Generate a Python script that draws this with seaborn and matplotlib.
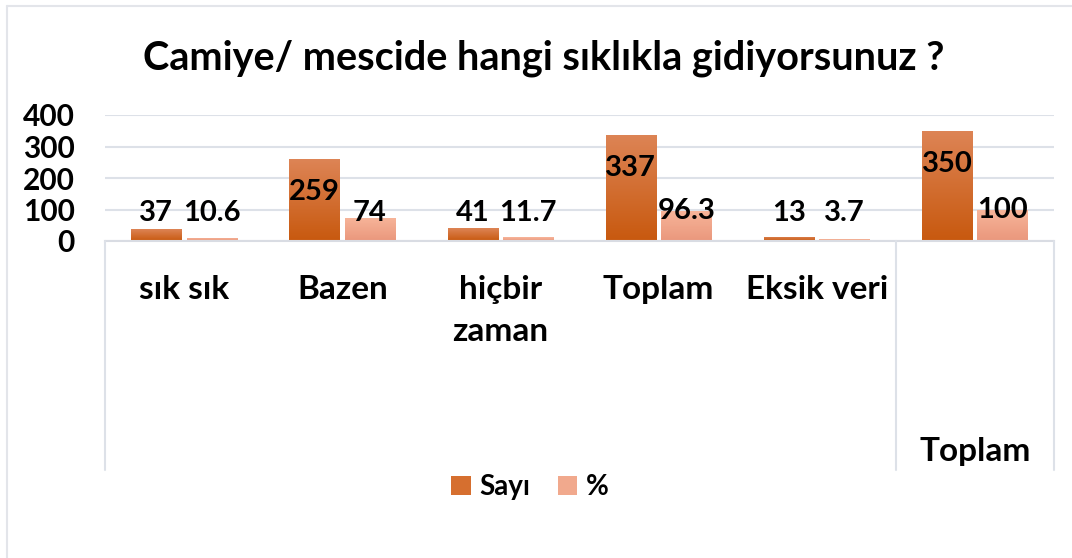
import numpy as np
import pandas as pd
import matplotlib
matplotlib.use("Agg")
import matplotlib.pyplot as plt
import seaborn as sns
from matplotlib.patches import Patch, Rectangle
from matplotlib.lines import Line2D
from matplotlib.colors import LinearSegmentedColormap

# veri
categories = ["sık sık", "Bazen", "hiçbir\nzaman", "Toplam", "Eksik veri", ""]
group_label = "Toplam"
sayi = [37, 259, 41, 337, 13, 350]
yuzde = [10.6, 74, 11.7, 96.3, 3.7, 100]
series = ["Sayı", "%"]
yticks = [0, 100, 200, 300, 400]

sns.set_theme(style="white")
plt.rcParams["font.family"] = ["Lato", "DejaVu Sans"]
plt.rcParams["font.weight"] = "bold"
plt.rcParams["text.color"] = "black"
plt.rcParams["ytick.color"] = "black"

df = pd.DataFrame({
    "pos": list(range(len(categories))) * 2,
    "deger": sayi + yuzde,
    "seri": [series[0]] * len(sayi) + [series[1]] * len(yuzde),
})

dark = "#D2691E"
light = "#F2A98A"
grad = {
    "Sayı": ("#DD8455", "#C8590F"),
    "%": ("#F7B59A", "#EA977C"),
}

fig = plt.figure(figsize=(10.72, 5.58), dpi=100)
W, H = 1072, 558
ax = fig.add_axes([105 / W, 1 - 241 / H, (1054 - 105) / W, (241 - 115) / H])

sns.barplot(data=df, x="pos", y="deger", hue="seri", hue_order=series,
            palette=[dark, light], width=0.7, gap=0.09, ax=ax, legend=False)

ax.set_ylim(0, 400)
ax.set_xlim(-0.5, len(categories) - 0.5)
ax.set_yticks(yticks)
ax.set_yticklabels([str(t) for t in yticks], fontsize=21.5, fontweight="bold",
                   color="black")
ax.tick_params(axis="y", length=0, pad=22)
ax.set_xticks([])
ax.set_xlabel("")
ax.set_ylabel("")
for s in ["top", "right", "left"]:
    ax.spines[s].set_visible(False)
ax.spines["bottom"].set_color("#D9DCE3")
ax.spines["bottom"].set_linewidth(1.5)
ax.yaxis.grid(True, color="#DDE1E8", linewidth=1.5)
ax.set_axisbelow(True)

# gradyan dolgu ve etiketler
n = len(categories)
for i, patch in enumerate(ax.patches[:2 * n]):
    name = series[i // n]
    top, bottom = grad[name]
    cmap = LinearSegmentedColormap.from_list(name, [bottom, top])
    x0, w = patch.get_x(), patch.get_width()
    h = patch.get_height()
    patch.set_facecolor("none")
    patch.set_edgecolor("none")
    hh = max(h, 5)
    img = ax.imshow(np.linspace(0, 1, 64).reshape(-1, 1), cmap=cmap,
                    extent=[x0, x0 + w, 0, hh], origin="lower",
                    aspect="auto", zorder=2)
    clip = Rectangle((x0, 0), w, hh, transform=ax.transData)
    img.set_clip_path(clip)
    if h > 200:
        ty = h - 105
    else:
        ty = max(h, 88)
    ax.text(x0 + w / 2, ty, f"{h:g}", ha="center", va="center",
            fontsize=21, fontweight="bold", color="black", zorder=3)
ax.set_xlim(-0.5, n - 0.5)
ax.set_ylim(0, 400)

# kategori etiketleri
for i, lab in enumerate(categories):
    if lab:
        fig.text((105 + (i + 0.5) * (1054 - 105) / n) / W, 1 - 275 / H, lab,
                 ha="center", va="top", fontsize=24, fontweight="bold",
                 linespacing=1.55)
fig.text((105 + 5.5 * (1054 - 105) / n) / W, 1 - 452 / H, group_label,
         ha="center", va="center", fontsize=24, fontweight="bold")

# ayırıcı çizgiler
for xp in [105, 896, 1054]:
    fig.add_artist(Line2D([xp / W, xp / W], [1 - 241 / H, 1 - 470 / H],
                          color="#DDE1E8", linewidth=1.5))

# çerçeve
fig.add_artist(Line2D([7 / W, 7 / W], [1 - 6 / H, 0], color="#E3E5EA", linewidth=1.5))
fig.add_artist(Line2D([7 / W, 1], [1 - 6 / H, 1 - 6 / H], color="#E3E5EA", linewidth=1.5))

fig.text(544 / W, 1 - 58 / H, "Camiye/ mescide hangi sıklıkla gidiyorsunuz ?",
         ha="center", va="center", fontsize=28.5, fontweight="bold", color="black")

handles = [Patch(facecolor="#D66F2F", edgecolor="none"),
           Patch(facecolor="#F1A98D", edgecolor="none")]
fig.legend(handles, series, loc="center", bbox_to_anchor=(530 / W, 1 - 487 / H),
           ncol=2, frameon=False, prop={"size": 20, "weight": "bold"},
           handlelength=0.7, handleheight=0.7, handletextpad=0.3, columnspacing=1.0)

fig.savefig("out.png", dpi=100)
